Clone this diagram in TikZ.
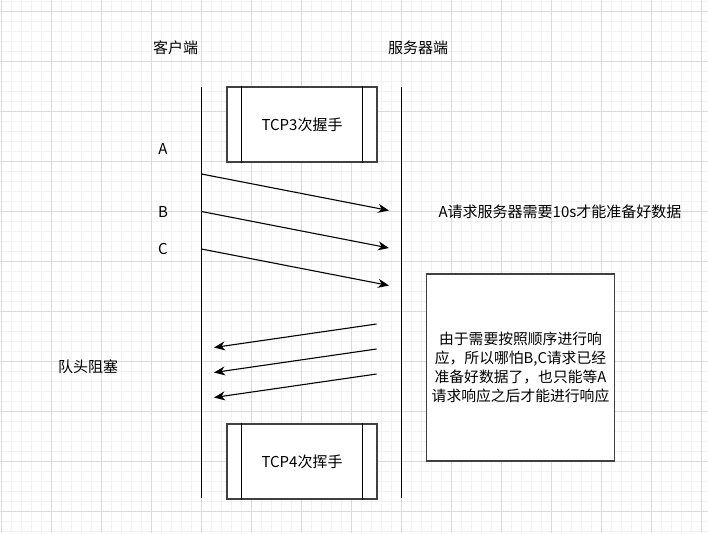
\documentclass[tikz,border=0pt]{standalone}
\usepackage{fontspec}
\setmainfont{Noto Sans CJK SC}
\usetikzlibrary{arrows.meta}
\definecolor{gridminor}{HTML}{F2F2F2}
\definecolor{gridmajor}{HTML}{DADADA}
\definecolor{boxedge}{HTML}{404040}
\begin{document}
\begin{tikzpicture}[x=1pt,y=-1pt,
  lifeline/.style={line width=1.3pt,black},
  msg/.style={line width=1.1pt,black,-{Stealth[length=11pt,width=9pt,inset=3.5pt]}},
  procbox/.style={draw=boxedge,line width=1.6pt,fill=white},
  procedge/.style={line width=1.1pt,black},
  lbl/.style={font=\fontsize{15pt}{18pt}\selectfont,inner sep=0pt},
  notebox/.style={draw=boxedge,line width=1.6pt,fill=white,align=center,
    font=\fontsize{14.8pt}{19pt}\selectfont}]
  % canvas and grid
  \fill[white] (0,0) rectangle (708,533);
  \useasboundingbox (0,0) rectangle (708,533);
  \foreach \x in {1.5,11.5,...,708} \draw[gridminor,line width=0.8pt] (\x,0) -- (\x,533);
  \foreach \y in {1.5,11.5,...,533} \draw[gridminor,line width=0.8pt] (0,\y) -- (708,\y);
  \foreach \x in {1.5,51.5,...,708} \draw[gridmajor,line width=0.8pt] (\x,0) -- (\x,533);
  \foreach \y in {11.5,61.5,...,533} \draw[gridmajor,line width=0.8pt] (0,\y) -- (708,\y);

  % lifelines
  \coordinate (c0) at (201.5,87);
  \coordinate (c1) at (201.5,498);
  \coordinate (s0) at (401.5,87);
  \coordinate (s1) at (401.5,498);
  \draw[lifeline] (c0) -- (c1);
  \draw[lifeline] (s0) -- (s1);

  % headers
  \node[lbl] (client) at (175.5,48) {客户端};
  \node[lbl] (server) at (418,47.5) {服务器端};

  % handshake box
  \node[procbox,minimum width=150pt,minimum height=75pt,inner sep=0pt] (hs) at (302,124.5) {};
  \draw[procedge] ([xshift=15pt]hs.north west) -- ([xshift=15pt]hs.south west);
  \draw[procedge] ([xshift=-15pt]hs.north east) -- ([xshift=-15pt]hs.south east);
  \node[lbl] (hstext) at (hs.center) {TCP3次握手};

  % teardown box
  \node[procbox,minimum width=150pt,minimum height=75pt,inner sep=0pt] (wv) at (302,461.5) {};
  \draw[procedge] ([xshift=15pt]wv.north west) -- ([xshift=15pt]wv.south west);
  \draw[procedge] ([xshift=-15pt]wv.north east) -- ([xshift=-15pt]wv.south east);
  \node[lbl] (wvtext) at (wv.center) {TCP4次挥手};

  % request labels
  \node[lbl] (la) at (163,148.5) {A};
  \node[lbl] (lb) at (163,211.5) {B};
  \node[lbl] (lc) at (163,248.5) {C};

  % requests
  \coordinate (ra0) at (201.5,174);
  \coordinate (ra1) at (389,210.5);
  \coordinate (rb0) at (201.5,211.5);
  \coordinate (rb1) at (389,248);
  \coordinate (rc0) at (201.5,249);
  \coordinate (rc1) at (389,285.5);
  \draw[msg] (ra0) -- (ra1);
  \draw[msg] (rb0) -- (rb1);
  \draw[msg] (rc0) -- (rc1);

  % responses
  \coordinate (pa0) at (376.5,324);
  \coordinate (pa1) at (214,347.5);
  \coordinate (pb0) at (376.5,349);
  \coordinate (pb1) at (214,372.5);
  \coordinate (pc0) at (376.5,374);
  \coordinate (pc1) at (214,397.5);
  \draw[msg] (pa0) -- (pa1);
  \draw[msg] (pb0) -- (pb1);
  \draw[msg] (pc0) -- (pc1);

  % annotations
  \node[lbl] (delay) at (560,212) {A请求服务器需要10s才能准备好数据};
  \node[lbl] (hol) at (88,367) {队头阻塞};
  \node[notebox,minimum width=188pt,minimum height=187pt,inner sep=0pt] (note) at (520.5,367.5)
    {由于需要按照顺序进行响\\应，所以哪怕B,C请求已经\\准备好数据了，也只能等A\\请求响应之后才能进行响应};
\end{tikzpicture}
\end{document}
